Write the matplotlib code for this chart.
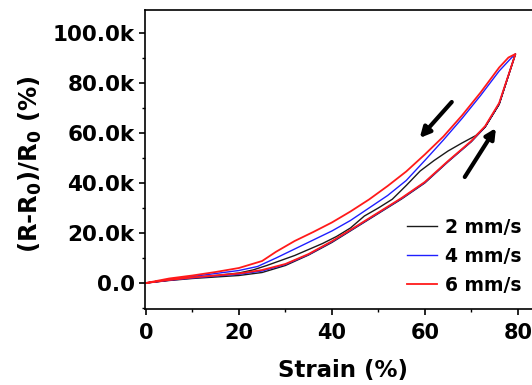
import matplotlib

matplotlib.use("Agg")
import matplotlib.pyplot as plt
from matplotlib.ticker import FuncFormatter, MultipleLocator

# %% data (strain in %, response in k%)
LABELS = ["2 mm/s", "4 mm/s", "6 mm/s"]
COLORS = ["#1a1a1a", "#1f1fff", "#ff1a1a"]
LINE_WIDTHS = [1.0, 1.0, 1.3]

# loading branch (lower), shared strain grid
load_strain = [0, 5, 10, 15, 20, 25, 30, 35, 40, 45, 50, 55, 60, 65, 70, 73, 76, 79.5]
load_2 = [0, 1.0, 1.8, 2.4, 3.0, 4.2, 7.0, 11.2, 16.2, 22.0, 27.8, 33.6, 40.0, 48.5, 56.5, 62.4, 71.5, 91.6]
load_4 = [0, 1.1, 2.0, 2.8, 3.5, 4.8, 7.4, 11.4, 16.5, 22.2, 28.0, 33.8, 40.2, 48.6, 56.6, 62.6, 71.8, 91.6]
load_6 = [0, 1.2, 2.2, 3.0, 3.8, 5.2, 7.6, 11.6, 16.7, 22.4, 28.2, 34.0, 40.4, 48.8, 56.8, 62.8, 72.0, 91.6]

# unloading branch (upper)
unload_strain_2 = [79.5, 76, 73, 71, 68, 65, 62, 59, 56, 53, 50, 47, 44, 41, 38, 35, 32, 29, 26, 23, 20, 15, 10, 5, 0]
unload_2 = [91.6, 71.5, 62.5, 59.0, 56.0, 52.8, 49.0, 44.8, 39.0, 33.5, 30.0, 26.8, 22.0, 18.6, 15.8, 13.4, 11.0,
            9.0, 7.0, 5.2, 4.0, 3.0, 2.2, 1.2, 0]
unload_strain_4 = [79.5, 78.5, 76, 72, 68, 64, 60, 56, 52, 48, 44, 40, 36, 32, 28, 24, 20, 15, 10, 5, 0]
unload_4 = [91.6, 89.8, 84.8, 75.0, 65.8, 57.2, 49.0, 41.0, 35.0, 30.0, 25.0, 20.8, 17.2, 13.6, 10.0, 6.6, 5.0,
            3.8, 2.6, 1.4, 0]
unload_strain_6 = [79.5, 78, 76, 72, 68, 64, 60, 56, 52, 48, 44, 40, 36, 32, 28, 25, 20, 15, 10, 5, 0]
unload_6 = [91.6, 90.2, 86.2, 76.2, 67.0, 58.6, 51.4, 44.6, 38.8, 33.4, 28.6, 24.2, 20.4, 16.8, 12.5, 8.8, 6.0,
            4.4, 3.0, 1.8, 0]

# arrow annotations: (tail strain, tail k%), (head strain, head k%)
ARROW_UNLOAD = ((65.8, 72.4), (58.9, 58.0))
ARROW_LOAD = ((68.6, 42.4), (75.3, 62.0))

# %%
plt.rcParams["font.family"] = "DejaVu Sans"
plt.rcParams["font.weight"] = "bold"
plt.rcParams["mathtext.fontset"] = "dejavusans"
plt.rcParams["mathtext.default"] = "bf"

fig = plt.figure(figsize=(5.32, 3.85), dpi=100)
ax = fig.add_axes([145 / 532, 1 - 309 / 385, 396 / 532, 299.5 / 385])

series = [
    (load_strain, load_2, unload_strain_2, unload_2),
    (load_strain, load_4, unload_strain_4, unload_4),
    (load_strain, load_6, unload_strain_6, unload_6),
]
for (lx, ly, ux, uy), lab, col, lw in zip(series, LABELS, COLORS, LINE_WIDTHS):
    xs = list(lx) + list(ux)
    ys = [v * 1000 for v in list(ly) + list(uy)]
    ax.plot(xs, ys, color=col, lw=lw, label=lab)

for (x0, y0), (x1, y1) in (ARROW_UNLOAD, ARROW_LOAD):
    ax.annotate(
        "",
        xy=(x1, y1 * 1000),
        xytext=(x0, y0 * 1000),
        arrowprops=dict(arrowstyle="-|>", color="k", lw=3.0, mutation_scale=15,
                        shrinkA=0, shrinkB=0),
    )

ax.set_xlim(-0.2, 85)
ax.set_ylim(-10.4e3, 109.4e3)
ax.xaxis.set_major_locator(MultipleLocator(20))
ax.xaxis.set_minor_locator(MultipleLocator(10))
ax.yaxis.set_major_locator(MultipleLocator(20e3))
ax.yaxis.set_minor_locator(MultipleLocator(10e3))
ax.yaxis.set_major_formatter(
    FuncFormatter(lambda v, _: "0.0" if abs(v) < 1 else f"{v / 1000:.1f}k")
)

for s in ax.spines.values():
    s.set_linewidth(1.2)
ax.tick_params(which="major", direction="out", length=4, width=1.2)
ax.tick_params(which="minor", direction="out", length=2.5, width=1.0)
ax.tick_params(axis="x", which="major", labelsize=15, pad=6)
ax.tick_params(axis="y", which="major", labelsize=15.5, pad=3.5)
for lbl in ax.get_xticklabels() + ax.get_yticklabels():
    lbl.set_fontweight("bold")

ax.set_xlabel("Strain (%)", fontsize=16.5, fontweight="bold", va="top")
ax.xaxis.set_label_coords(0.5, -0.168)
ax.set_ylabel(r"(R-R$_0$)/R$_0$ (%)", fontsize=17.5, fontweight="bold")
ax.yaxis.set_label_coords(-0.255, 0.482)

ax.legend(
    loc="upper left",
    bbox_to_anchor=(0.662, 0.305),
    frameon=False,
    prop={"weight": "bold", "size": 13.5},
    borderpad=0,
    borderaxespad=0,
    handlelength=1.6,
    handletextpad=0.43,
    labelspacing=0.54,
)

fig.savefig("out.png", dpi=100)
